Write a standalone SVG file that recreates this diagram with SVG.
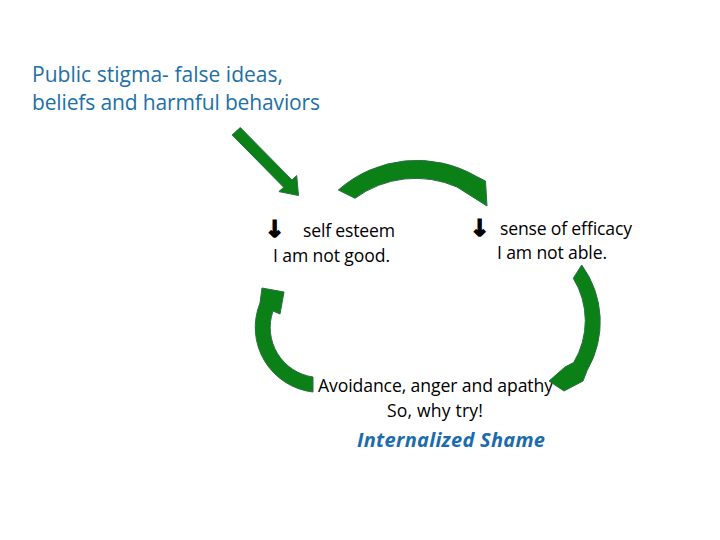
<svg xmlns="http://www.w3.org/2000/svg" width="720" height="540" viewBox="0 0 720 540">
<style>
.t{font-family:"Open Sans","Liberation Sans",sans-serif;font-size:17.6px;fill:#000}
.title{font-family:"Open Sans","Liberation Sans",sans-serif;font-size:21px;fill:#2170a6}
.shame{font-family:"Open Sans","Liberation Sans",sans-serif;font-size:20px;font-weight:bold;font-style:italic;fill:#1b6cae}
.ar{font-family:"DejaVu Sans",sans-serif;font-weight:bold;font-size:23px;fill:#000;stroke:#000;stroke-width:1.6;stroke-linejoin:miter}
.arrow{fill:#0a8016;stroke:#2a6e44;stroke-width:1;stroke-linejoin:round}
</style>
<rect width="720" height="540" fill="#fff"/>
<g id="public-stigma">
<text class="title" x="32" y="82" textLength="251">Public stigma- false ideas,</text>
<text class="title" x="32" y="109.5" textLength="288">beliefs and harmful behaviors</text>
</g>
<g id="self-esteem">
<text class="ar" x="265" y="237">↓</text>
<text class="t" x="303" y="236.5" textLength="92">self esteem</text>
<text class="t" x="273" y="261.5" textLength="117">I am not good.</text>
</g>
<g id="efficacy">
<text class="ar" x="470" y="236">↓</text>
<text class="t" x="500" y="234.5" textLength="132">sense of efficacy</text>
<text class="t" x="497" y="258.5" textLength="110">I am not able.</text>
</g>
<g id="avoidance">
<text class="t" x="318" y="391.5" textLength="235">Avoidance, anger and apathy</text>
<text class="t" x="387" y="416.5" textLength="96">So, why try!</text>
</g>
<g id="internalized-shame">
<text class="shame" x="357" y="446.5" textLength="188">Internalized Shame</text>
</g>
<g id="connectors">
<path class="arrow" d="M240.3,127.5 L291.9,179.9 L296.7,175.6 L298.5,195.5 L278.9,191.6 L283.7,187.3 L232.1,134.9 Z"/>
<path class="arrow" d="M338.3,190 A118.5,118.5 0 0 1 476.5,176.5 L485.5,181 L487,206 L457,187 A102.5,102.5 0 0 0 355,198.3 Z"/>
<path class="arrow" d="M581.7,265 A96.5,96.5 0 0 1 587.2,370.3 L583,381 L564,391 L549,381 L565,367 L573.7,362.5 A81,81 0 0 0 573.3,278.3 Z"/>
<path class="arrow" d="M313,392 A65,65 0 0 1 260,303 L262,288 L284,292 L280,314 L273,311 A50,50 0 0 0 313,377 Z"/>
</g>
</svg>
